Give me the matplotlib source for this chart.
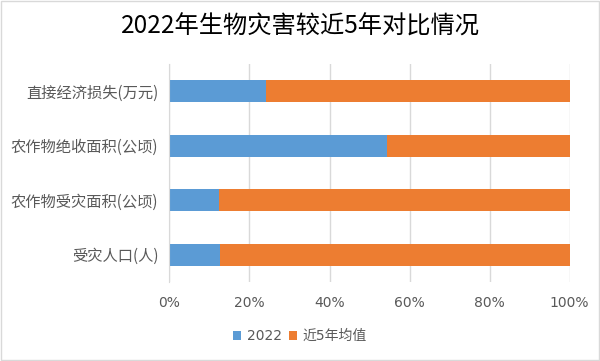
import matplotlib.pyplot as plt
from matplotlib.patches import Rectangle

plt.rcParams['font.family'] = ['Noto Sans CJK SC', 'DejaVu Sans']

categories = ['受灾人口(人)', '农作物受灾面积(公顷)', '农作物绝收面积(公顷)', '直接经济损失(万元)']
share_2022 = [12.6, 12.3, 54.4, 24.1]
share_avg = [100 - v for v in share_2022]
series_names = ['2022', '近5年均值']
xticks = [0, 20, 40, 60, 80, 100]

blue = '#5B9BD5'
orange = '#ED7D31'
grey = '#595959'

fig = plt.figure(figsize=(6, 3.61), dpi=100)
ax = fig.add_axes([169.5 / 600, 1 - 282 / 361, 400 / 600, 218 / 361])

y = range(len(categories))
ax.barh(y, share_2022, height=0.4, color=blue, label=series_names[0], zorder=3)
ax.barh(y, share_avg, left=share_2022, height=0.4, color=orange,
        label=series_names[1], zorder=3)

ax.set_xlim(0, 100)
ax.set_ylim(-0.5, len(categories) - 0.5)
ax.set_xticks(xticks)
ax.set_xticklabels([f'{t}%' for t in xticks], fontsize=10, color=grey,
                   family=['DejaVu Sans'])
ax.set_yticks(list(y))
ax.set_yticklabels(categories, fontsize=11, color=grey)
ax.tick_params(axis='x', length=0, pad=10)
ax.tick_params(axis='y', length=0, pad=8)
ax.grid(axis='x', color='#D9D9D9', linewidth=1, zorder=0)
for s in ['top', 'right', 'bottom']:
    ax.spines[s].set_visible(False)
ax.spines['left'].set_color('#D9D9D9')
ax.spines['left'].set_zorder(4)

fig.text(0.5, 1 - 27 / 361, '2022年生物灾害较近5年对比情况', ha='center', va='center',
         fontsize=17.5, color='black')

fig.legend(loc='center', bbox_to_anchor=(300 / 600, 1 - 336 / 361), ncol=2,
           frameon=False, prop={'family': ['DejaVu Sans', 'Noto Sans CJK SC'], 'size': 10},
           handlelength=0.6, handleheight=0.6,
           columnspacing=0.5, handletextpad=0.4, labelcolor=grey)

fig.patches.append(Rectangle((0.002, 0.003), 0.996, 0.994, transform=fig.transFigure,
                             fill=False, edgecolor='#D9D9D9', linewidth=1))

fig.savefig('out.png', dpi=100)
